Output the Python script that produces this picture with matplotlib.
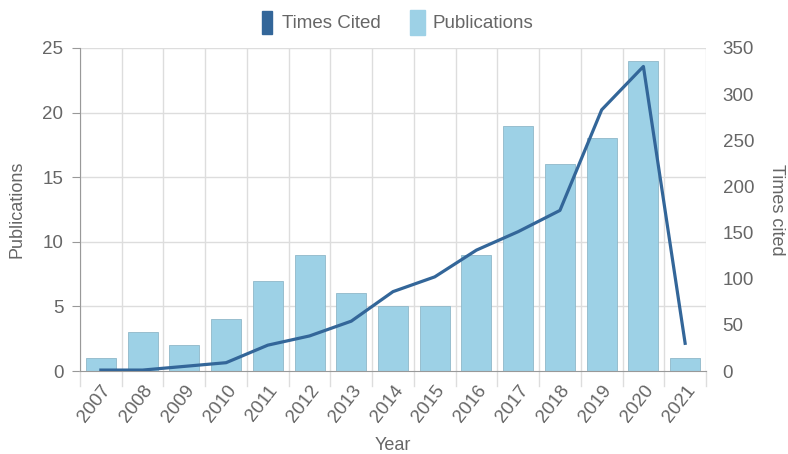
import matplotlib
matplotlib.use("Agg")
import matplotlib.pyplot as plt
from matplotlib.patches import Rectangle
import numpy as np

years = ["2007", "2008", "2009", "2010", "2011", "2012", "2013", "2014",
         "2015", "2016", "2017", "2018", "2019", "2020", "2021"]
publications = [1, 3, 2, 4, 7, 9, 6, 5, 5, 9, 19, 16, 18, 24, 1]
times_cited = [1, 1, 5, 9, 28, 38, 54, 86, 102, 131, 151, 174, 283, 330, 30]

bar_color = "#9dd1e6"
line_color = "#336699"
text_color = "#666666"
grid_color = "#dddddd"

plt.rcParams["font.family"] = ["Liberation Sans", "DejaVu Sans"]

fig = plt.figure(figsize=(7.88, 4.54), dpi=100)
ax = fig.add_axes([80 / 788, 83 / 454, 626 / 788, 323 / 454])
x = np.arange(len(years))

ax.bar(x, publications, width=0.72, color=bar_color,
       edgecolor="#8fb8c9", linewidth=0.6, zorder=2)
ax.set_xlim(-0.5, len(years) - 0.5)
ax.set_ylim(0, 25)
ax.set_yticks(range(0, 26, 5))

# vertical grid at category boundaries, extended below as ticks
bounds = np.arange(len(years) + 1) - 0.5
for b in bounds:
    ax.axvline(b, color=grid_color, lw=1, zorder=0)
    ax.plot([b, b], [0, -0.045], transform=ax.get_xaxis_transform(),
            color=grid_color, lw=1, clip_on=False)
for yv in range(5, 26, 5):
    ax.axhline(yv, color=grid_color, lw=1, zorder=0)

ax.set_xticks(x)
ax.set_xticklabels(years, rotation=52, ha="right", rotation_mode="anchor",
                   fontsize=13.5, color=text_color)
ax.tick_params(axis="x", length=0, pad=8)
ax.tick_params(axis="y", length=6, color="#999999", labelsize=13.5,
               labelcolor=text_color, pad=6)
for s in ["top", "right"]:
    ax.spines[s].set_visible(False)
ax.spines["left"].set_color("#999999")
ax.spines["bottom"].set_color("#999999")
ax.set_ylabel("Publications", fontsize=13, color=text_color, labelpad=12)
ax.set_xlabel("Year", fontsize=13, color=text_color, labelpad=8)

ax2 = ax.twinx()
ax2.plot(x, times_cited, color=line_color, lw=2.3, zorder=3)
ax2.set_ylim(0, 350)
ax2.set_yticks(range(0, 351, 50))
ax2.tick_params(axis="y", length=0, labelsize=13.5, labelcolor=text_color, pad=12)
for s in ["top", "right", "left", "bottom"]:
    ax2.spines[s].set_visible(False)
ax2.set_ylabel("Times cited", fontsize=13, color=text_color, rotation=270,
               labelpad=22)

# legend
fig.patches.append(Rectangle((262 / 788, 1 - 34 / 454), 10 / 788, 23 / 454,
                             transform=fig.transFigure, color=line_color))
fig.text(282 / 788, 1 - 23 / 454, "Times Cited", fontsize=13.5,
         color=text_color, va="center")
fig.patches.append(Rectangle((410 / 788, 1 - 35 / 454), 15 / 788, 25 / 454,
                             transform=fig.transFigure, color=bar_color))
fig.text(432 / 788, 1 - 23 / 454, "Publications", fontsize=13.5,
         color=text_color, va="center")

fig.savefig("out.png", dpi=100)
